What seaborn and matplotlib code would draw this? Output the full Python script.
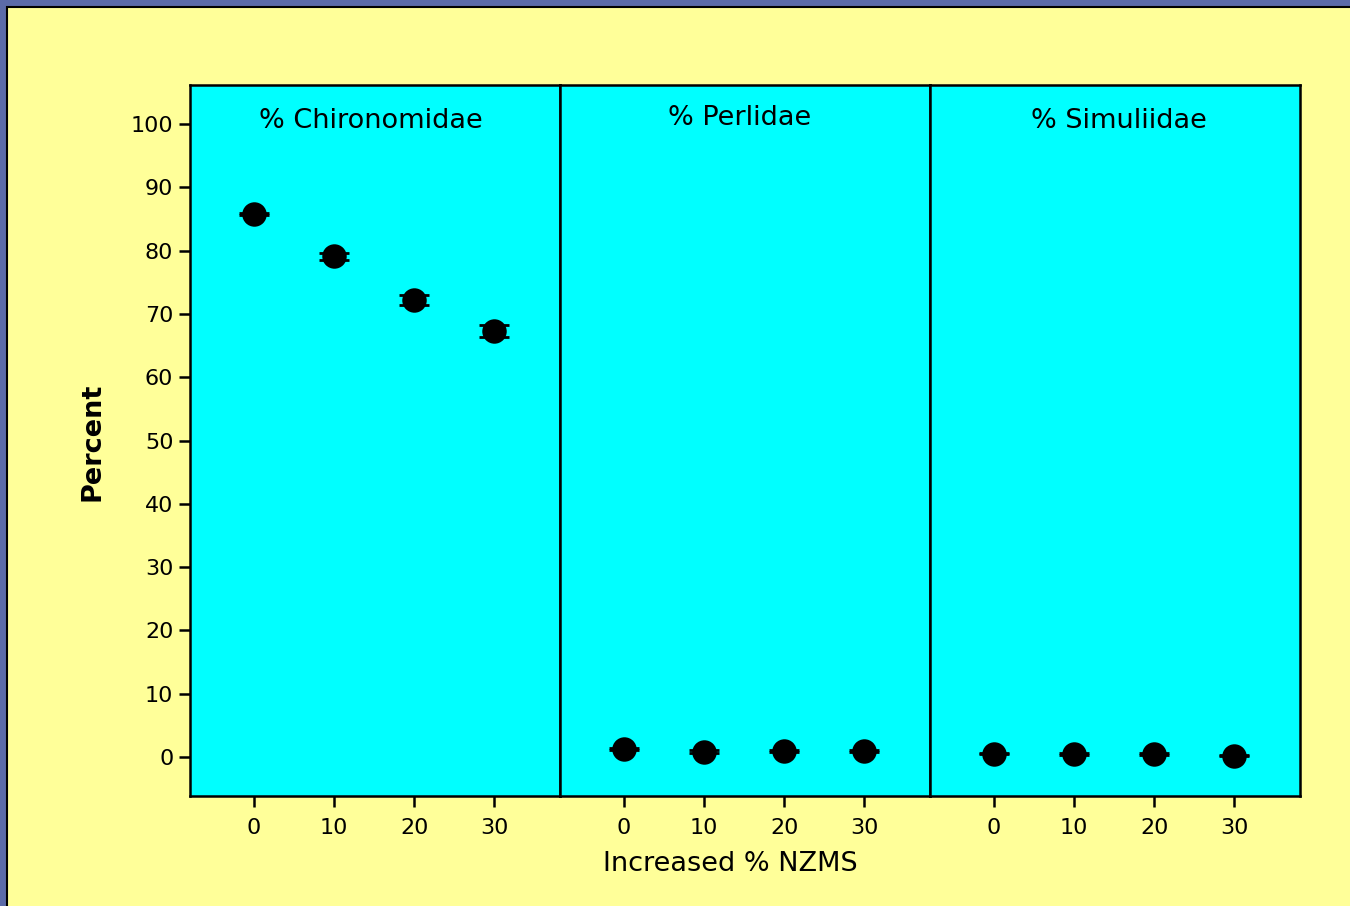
import numpy as np
import pandas as pd
import matplotlib
matplotlib.use("Agg")
import matplotlib.pyplot as plt
from matplotlib.patches import Rectangle
import seaborn as sns

# ---- data ----
nzms = [0, 10, 20, 30]
panels = ["% Chironomidae", "% Perlidae", "% Simuliidae"]
chironomidae = [85.8, 79.1, 72.2, 67.3]
chironomidae_err = [0.15, 0.6, 0.8, 0.95]
perlidae = [1.3, 0.8, 0.9, 0.9]
perlidae_err = [0.15, 0.2, 0.2, 0.15]
simuliidae = [0.5, 0.5, 0.5, 0.2]
simuliidae_err = [0.1, 0.15, 0.15, 0.15]
yticks = [0, 10, 20, 30, 40, 50, 60, 70, 80, 90, 100]

values = [chironomidae, perlidae, simuliidae]
errors = [chironomidae_err, perlidae_err, simuliidae_err]
rows = []
for p, v, e in zip(panels, values, errors):
    for x, yy, ee in zip(nzms, v, e):
        rows.append({"panel": p, "nzms": x, "pct": yy, "err": ee})
df = pd.DataFrame(rows)

sns.set_theme(style="white")
plt.rcParams["font.family"] = ["DejaVu Sans"]
for k in ["text.color", "axes.labelcolor", "xtick.color", "ytick.color"]:
    plt.rcParams[k] = "black"

W, H = 1350, 906
fig = plt.figure(figsize=(W / 100, H / 100), dpi=100)
fig.patch.set_facecolor("#5B6BA8")
# yellow slide area
bg = fig.add_axes([0, 0, 1, 1], zorder=-10)
bg.set_xlim(0, W)
bg.set_ylim(0, H)
bg.axis("off")
bg.add_patch(Rectangle((7, -5), W + 10, H - 7 + 5, facecolor="#FFFF99",
                       edgecolor="black", linewidth=1.5))

left, right = 190 / W, 1300 / W
bottom, top = 1 - 796 / H, 1 - 85 / H
pw = (right - left) / 3
title_x = [0.49, 0.485, 0.51]
title_y = [0.95, 0.953, 0.95]
axes = []
for i, p in enumerate(panels):
    ax = fig.add_axes([left + i * pw, bottom, pw, top - bottom], zorder=1)
    axes.append(ax)
    sub = df[df["panel"] == p]
    ax.set_facecolor("#00FFFF")
    ax.errorbar(sub["nzms"], sub["pct"], yerr=sub["err"], fmt="none", ecolor="black",
                elinewidth=1.5, capsize=11, capthick=2, zorder=2)
    sns.scatterplot(data=sub, x="nzms", y="pct", ax=ax, color="black", s=310,
                    edgecolor="black", linewidth=0, zorder=3, legend=False)
    ax.set_xlim(-8, 38.2)
    ax.set_ylim(-6.2, 106.2)
    ax.set_xticks(nzms)
    ax.set_xticklabels([str(v) for v in nzms], fontsize=16)
    ax.set_xlabel("")
    ax.set_ylabel("")
    ax.text(title_x[i], title_y[i], p, transform=ax.transAxes, ha="center", va="center",
            fontsize=19.5)
    for s in ax.spines.values():
        s.set_color("black")
        s.set_linewidth(1.8)
    ax.tick_params(axis="x", direction="out", length=8, width=1.8, color="black",
                   bottom=True, pad=8)
    if i == 0:
        ax.set_yticks(yticks)
        ax.set_yticklabels([str(v) for v in yticks], fontsize=16)
        ax.tick_params(axis="y", direction="out", length=8, width=1.8, color="black",
                       left=True, pad=4)
    else:
        ax.set_yticks([])
    ax.grid(False)

fig.text(93 / W, 1 - 442 / H, "Percent", rotation=90, ha="center", va="center",
         fontsize=19.5, fontweight="bold")
fig.text(730 / W, 1 - 864 / H, "Increased % NZMS", ha="center", va="center", fontsize=19.5)

fig.savefig("out.png", dpi=100, facecolor=fig.get_facecolor())
